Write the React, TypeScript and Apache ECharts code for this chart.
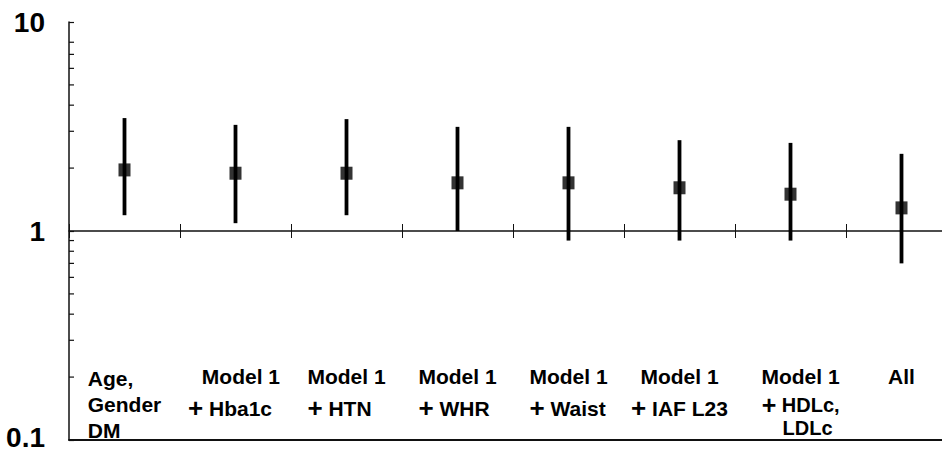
import React, { useEffect, useRef } from "react";
import * as echarts from "echarts";

// ---- data ----
const categories = [
  "Age, Gender DM",
  "Model 1 + Hba1c",
  "Model 1 + HTN",
  "Model 1 + WHR",
  "Model 1 + Waist",
  "Model 1 + IAF L23",
  "Model 1 + HDLc, LDLc",
  "All",
];
const labelLines = [
  ["Age,", "Gender", "DM"],
  ["Model 1", "+ Hba1c"],
  ["Model 1", "+ HTN"],
  ["Model 1", "+ WHR"],
  ["Model 1", "+ Waist"],
  ["Model 1", "+ IAF L23"],
  ["Model 1", "+ HDLc,", "LDLc"],
  ["All"],
];
const oddsRatio = [1.96, 1.89, 1.89, 1.7, 1.7, 1.61, 1.5, 1.29];
const lowerCI = [1.19, 1.09, 1.19, 1.0, 0.9, 0.9, 0.9, 0.7];
const upperCI = [3.47, 3.22, 3.43, 3.15, 3.15, 2.72, 2.64, 2.34];
const yMin = 0.1;
const yMax = 10;
const minorTickValues = [0.2, 0.3, 0.4, 0.5, 0.6, 0.7, 0.8, 0.9, 2, 3, 4, 5, 6, 7, 8];

// ---- layout / style ----
const W = 942;
const H = 453;
const GRID = { left: 69, top: 22, width: 888, height: 418 };
const FONT = "'Liberation Sans', Arial, Helvetica, sans-serif";
const lineAligns = [
  ["left", "left", "left"],
  ["right", "right"],
  ["left", "left"],
  ["left", "left"],
  ["left", "left"],
  ["center", "center"],
  ["right", "right", "right"],
  ["center"],
];
const linePadLeft = [
  [0, 0, 0],
  [0, 0],
  [0, 0],
  [0, 0],
  [0, 0],
  [0, 0],
  [20, 0, 0],
  [0],
];
const linePadRight = [
  [0, 0, 0],
  [3, 11],
  [0, 0],
  [0, 0],
  [0, 0],
  [0, 0],
  [0, 0, 7],
  [0],
];
const lineHeights = [
  [36, 16, 36],
  [32, 32],
  [32, 32],
  [32, 32],
  [32, 32],
  [32, 32],
  [32, 25, 22],
  [32],
];
const lineFontSizes = [
  [21, 21, 21],
  [21, 21],
  [21, 21],
  [21, 21],
  [21, 21],
  [21, 21],
  [21, 20, 20],
  [21],
];

function buildRich() {
  const rich: Record<string, any> = {};
  labelLines.forEach((lines, idx) => {
    lines.forEach((t, li) => {
      const hasPlus = t.startsWith("+ ");
      const base = {
        fontWeight: "bold",
        fontFamily: FONT,
        color: "#000",
        lineHeight: lineHeights[idx][li],
        align: lineAligns[idx][li],
      };
      const pl = linePadLeft[idx][li];
      const pr = linePadRight[idx][li];
      rich[`c${idx}l${li}`] = {
        ...base,
        fontSize: lineFontSizes[idx][li],
        padding: [0, pr, 0, hasPlus ? 0 : pl],
      };
      rich[`p${idx}l${li}`] = {
        ...base,
        fontSize: lineFontSizes[idx][li] + 5,
        padding: [0, 0, 0, pl],
      };
    });
  });
  return rich;
}

function formatLabel(idx: number) {
  return labelLines[idx]
    .map((t, li) => {
      if (t.startsWith("+ ")) {
        return `{p${idx}l${li}|+}{c${idx}l${li}| ${t.slice(2)}}`;
      }
      return `{c${idx}l${li}|${t}}`;
    })
    .join("\n");
}

export default function App() {
  const ref = useRef<HTMLDivElement>(null);
  useEffect(() => {
    if (!ref.current) return;
    const chart = echarts.init(ref.current, null, { renderer: "svg" });
    const midOffset = -GRID.height / 2;
    const lineColor = "#111";

    const midAxisBase = {
      type: "category",
      data: categories,
      position: "bottom",
      offset: midOffset,
      boundaryGap: true,
      axisLabel: { show: false },
      splitLine: { show: false },
    };

    const yLabelStyle = { fontSize: 28, fontWeight: "bold", fontFamily: FONT, color: "#000" };

    chart.setOption({
      animation: false,
      backgroundColor: "#fff",
      grid: { ...GRID, containLabel: false, outerBoundsMode: "none" },
      xAxis: [
        {
          type: "category",
          data: categories,
          position: "bottom",
          boundaryGap: true,
          axisLine: { show: true, lineStyle: { color: lineColor, width: 1.8 } },
          axisTick: { show: false },
          splitLine: { show: false },
          axisLabel: {
            show: true,
            inside: true,
            interval: 0,
            margin: 80,
            verticalAlign: "top",
            formatter: (_v: string, i: number) => formatLabel(i),
            rich: buildRich(),
          },
        },
        {
          ...midAxisBase,
          axisLine: { show: true, lineStyle: { color: lineColor, width: 1.5 } },
          axisTick: { show: true, interval: 0, inside: false, length: 7, lineStyle: { color: lineColor, width: 1 } },
        },
        {
          ...midAxisBase,
          axisLine: { show: false },
          axisTick: { show: true, interval: 0, inside: true, length: 7, lineStyle: { color: lineColor, width: 1 } },
        },
      ],
      yAxis: {
        type: "log",
        logBase: 10,
        min: yMin,
        max: yMax,
        axisLine: { show: true, lineStyle: { color: lineColor, width: 1.5 } },
        axisTick: { show: true, inside: true, length: 5, lineStyle: { color: lineColor, width: 1.2 } },
        splitLine: { show: false },
        axisLabel: {
          show: true,
          margin: 24,
          ...yLabelStyle,
          formatter: (v: number) => (v <= yMin ? `{low|${v}}` : `{n|${v}}`),
          rich: {
            n: { ...yLabelStyle, lineHeight: 28 },
            low: { ...yLabelStyle, lineHeight: 28, padding: [0, 0, 5, 0] },
          },
        },
      },
      series: [
        {
          type: "custom",
          name: "minorTicks",
          silent: true,
          data: minorTickValues.map((v) => [0, v]),
          encode: { x: 0, y: 1 },
          renderItem: (params: any, api: any) => {
            const p = api.coord([0, api.value(1)]);
            const x0 = params.coordSys.x;
            return {
              type: "line",
              shape: { x1: x0, y1: p[1], x2: x0 + 5, y2: p[1] },
              style: { stroke: lineColor, lineWidth: 1.2 },
            };
          },
        },
        {
          type: "custom",
          name: "CI",
          data: lowerCI.map((lo, i) => [i, lo, upperCI[i]]),
          encode: { x: 0, y: [1, 2] },
          renderItem: (_params: any, api: any) => {
            const a = api.coord([api.value(0), api.value(1)]);
            const b = api.coord([api.value(0), api.value(2)]);
            return {
              type: "line",
              shape: { x1: a[0], y1: a[1], x2: b[0], y2: b[1] },
              style: { stroke: "#000", lineWidth: 3.8 },
            };
          },
          z: 3,
        },
        {
          type: "scatter",
          name: "OR",
          data: oddsRatio.map((v, i) => [i, v]),
          symbol: "rect",
          symbolSize: [12, 13],
          itemStyle: { color: "#000" },
          z: 4,
        },
      ],
    });
    return () => chart.dispose();
  }, []);
  return (
    <div
      ref={ref}
      style={{ position: "absolute", left: 0, top: 0, width: W, height: H, background: "#fff" }}
    />
  );
}
